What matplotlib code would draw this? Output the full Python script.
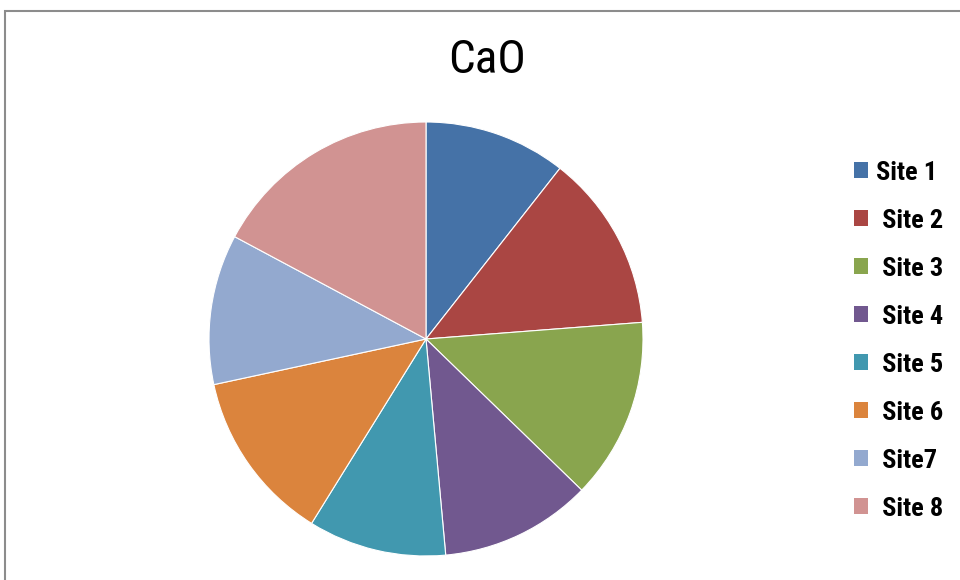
import matplotlib
matplotlib.use("Agg")
import matplotlib.pyplot as plt
from matplotlib.patches import Patch, Rectangle
from matplotlib import font_manager

# CaO share per sampling site
sites = ["Site 1", " Site 2", " Site 3", " Site 4", " Site 5", " Site 6", " Site7", " Site 8"]
cao = [10.6, 13.2, 13.5, 11.3, 10.3, 12.8, 11.2, 17.2]
colors = ["#4572A7", "#AA4643", "#89A54E", "#71588F", "#4198AF", "#DB843D", "#93A9CF", "#D19392"]

# prefer a narrow face, otherwise plain Liberation Sans a bit smaller
names = {f.name for f in font_manager.fontManager.ttflist}
fam, leg_size, title_size = "Liberation Sans", 16, 29
for narrow in ["Liberation Sans Narrow", "Roboto Condensed", "Open Sans Condensed"]:
    if narrow in names:
        fam, leg_size, title_size = narrow, 19, 34
        break

W, H = 960, 580
fig = plt.figure(figsize=(W / 100, H / 100), dpi=100)

# chart area border (runs off the right and bottom edges)
fig.patches.append(Rectangle((4.5 / W, -0.1), 1.2, (H - 10.5) / H + 0.1,
                             transform=fig.transFigure, fill=False,
                             edgecolor="#8c8c8c", linewidth=1.5))

cx, cy, r = 426, 339, 217
ax = fig.add_axes([(cx - r) / W, (H - cy - r) / H, 2 * r / W, 2 * r / H])
ax.pie(cao, colors=colors, startangle=90, counterclock=False,
       wedgeprops=dict(edgecolor="white", linewidth=0.8))
ax.set_xlim(-1, 1)
ax.set_ylim(-1, 1)
ax.axis("off")

fig.text(487 / W, 1 - 60 / H, "CaO", ha="center", va="center",
         fontsize=title_size, family=fam)

handles = [Patch(facecolor=c) for c in colors]
fig.legend(handles, sites, loc="upper left", bbox_to_anchor=(843 / W, 1 - 150 / H),
           frameon=False, prop=dict(family=fam, size=leg_size, weight="bold"),
           handlelength=0.55, handleheight=0.55, handletextpad=0.3,
           labelspacing=0.91, borderaxespad=0)

fig.savefig("out.png", dpi=100)
